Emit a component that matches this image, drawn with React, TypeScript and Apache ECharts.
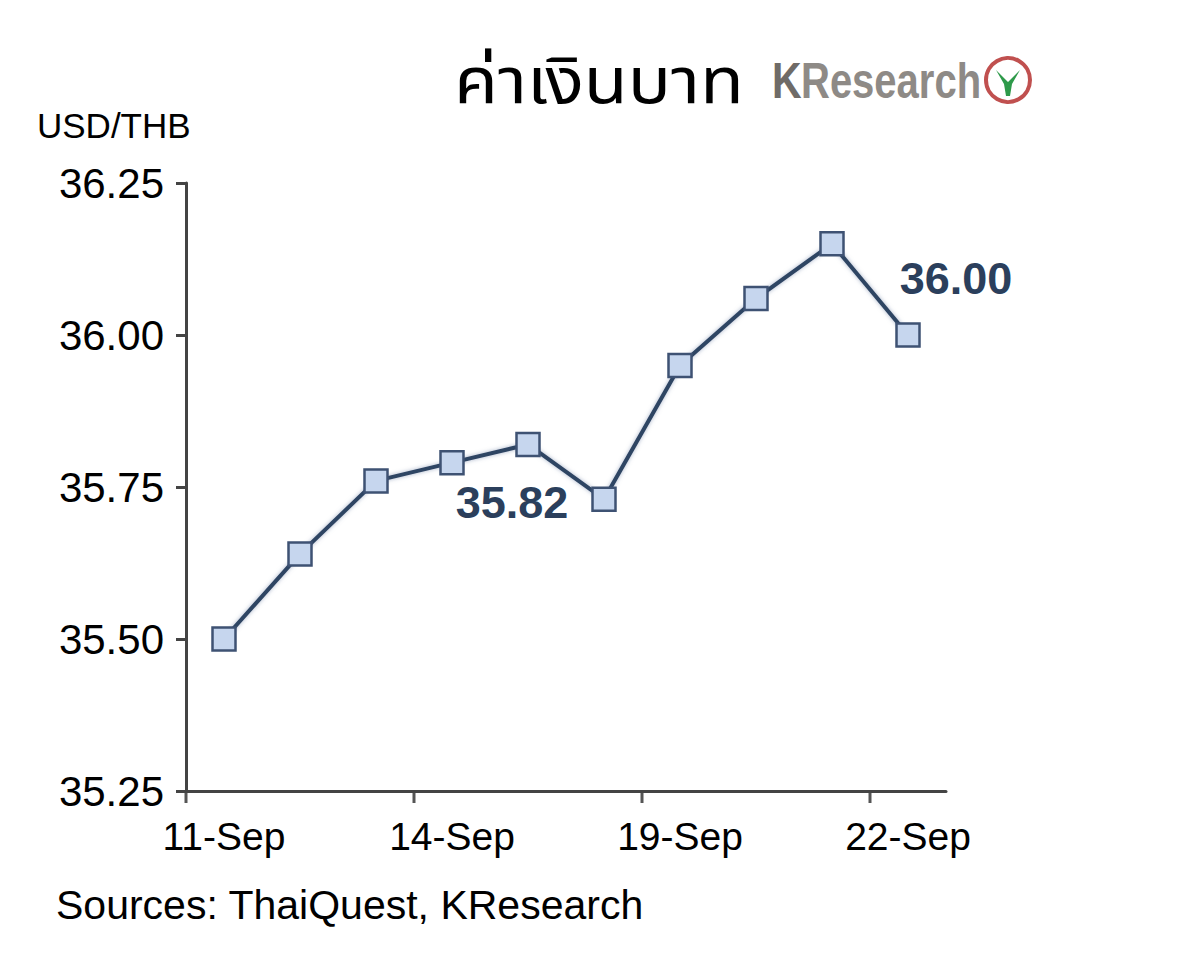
import React, { useEffect, useRef } from "react";
import * as echarts from "echarts";

const categories = ["11-Sep", "12-Sep", "13-Sep", "14-Sep", "15-Sep", "18-Sep", "19-Sep", "20-Sep", "21-Sep", "22-Sep"];
const rates = [35.5, 35.64, 35.76, 35.79, 35.82, 35.73, 35.95, 36.06, 36.15, 36.0];
const labelledIdx = [4, 9];
const tickEvery = 3;
const yTicks = { min: 35.25, max: 36.25, interval: 0.25 };
const titleText = "ค่าเงินบาท";
const unitText = "USD/THB";
const sourceText = "Sources: ThaiQuest, KResearch";

export default function App() {
  const ref = useRef<HTMLDivElement>(null);
  useEffect(() => {
    if (!ref.current) return;
    const chart = echarts.init(ref.current, null, { renderer: "svg" });
    const font = "'Liberation Sans', Arial, sans-serif";
    const data = rates.map((v, i) => {
      if (!labelledIdx.includes(i)) return v;
      const below = i === 4;
      return {
        value: v,
        label: {
          show: true,
          position: below ? "bottom" : "top",
          offset: below ? [-16, 18] : [48, -16],
          formatter: (p: any) => Number(p.value).toFixed(2),
          fontFamily: font,
          fontWeight: "bold",
          fontSize: 45,
          color: "#2b3f5c",
        },
      };
    });
    const graphics: any[] = [
      { type: "text", x: 454, y: 52, scaleX: 1.12, style: { text: titleText, fontSize: 64, fontFamily: "'Noto Sans Thai', 'Noto Sans', sans-serif", fill: "#000" } },
      { type: "text", left: 37, top: 108, style: { text: unitText, fontSize: 35, fontFamily: font, fill: "#000" } },
      { type: "text", left: 56, top: 884, style: { text: sourceText, fontSize: 41, fontFamily: font, fill: "#000" } },
      { type: "text", x: 772, y: 56, scaleX: 0.82, style: { text: "K", fontSize: 50, fontWeight: "bold", fontFamily: font, fill: "#6f6b67" } },
      { type: "text", x: 801, y: 56, scaleX: 0.8, style: { text: "Research", fontSize: 50, fontWeight: "bold", fontFamily: font, fill: "#8e8a86" } },
      { type: "circle", shape: { cx: 1008, cy: 80, r: 22 }, style: { fill: "#fff", stroke: "#c0504f", lineWidth: 4 } },
      { type: "polygon", shape: { points: [[996, 70], [1008, 82], [1020, 70], [1012, 84], [1010, 96], [1006, 96], [1004, 84]] }, style: { fill: "#2e9a4a" } },
    ];
    const option: any = {
      animation: false,
      backgroundColor: "#ffffff",
      grid: { left: 186, right: 254, top: 183, bottom: 180, containLabel: false },
      xAxis: {
        type: "category",
        data: categories,
        boundaryGap: true,
        axisLine: { lineStyle: { color: "#444", width: 3 } },
        axisTick: { show: false },
        axisLabel: { interval: tickEvery - 1, color: "#000", fontFamily: font, fontSize: 39, margin: 26 },
        splitLine: { show: false },
      },
      yAxis: {
        type: "value",
        min: yTicks.min,
        max: yTicks.max,
        interval: yTicks.interval,
        axisLine: { show: true, lineStyle: { color: "#444", width: 3 } },
        axisTick: { show: true, length: 10, lineStyle: { color: "#444", width: 3 } },
        axisLabel: { color: "#000", fontFamily: font, fontSize: 42, margin: 22, formatter: (v: number) => v.toFixed(2) },
        splitLine: { show: false },
      },
      series: [
        {
          type: "line",
          data,
          symbol: "rect",
          symbolSize: 23,
          lineStyle: { color: "#2e4563", width: 4, shadowColor: "rgba(110,130,165,0.6)", shadowBlur: 4 },
          itemStyle: { color: "#c6d6ee", borderColor: "#3e5273", borderWidth: 2.5 },
          label: { show: false },
          z: 3,
        },
      ],
      graphic: graphics,
    };
    chart.setOption(option);
    const c0 = chart.convertToPixel({ xAxisIndex: 0 }, 0) as number;
    const c1 = chart.convertToPixel({ xAxisIndex: 0 }, 1) as number;
    const yBase = chart.convertToPixel({ yAxisIndex: 0 }, yTicks.min) as number;
    const band = c1 - c0;
    const tickLines: any[] = [];
    for (let i = 0; i < categories.length; i += tickEvery) {
      const x = (chart.convertToPixel({ xAxisIndex: 0 }, i) as number) - band / 2;
      tickLines.push({ type: "line", shape: { x1: x, y1: yBase, x2: x, y2: yBase + 12 }, style: { stroke: "#555", lineWidth: 3 } });
    }
    chart.setOption({ graphic: graphics.concat(tickLines) });
    return () => chart.dispose();
  }, []);
  return <div ref={ref} style={{ position: "fixed", left: 0, top: 0, width: 1200, height: 971 }} />;
}
